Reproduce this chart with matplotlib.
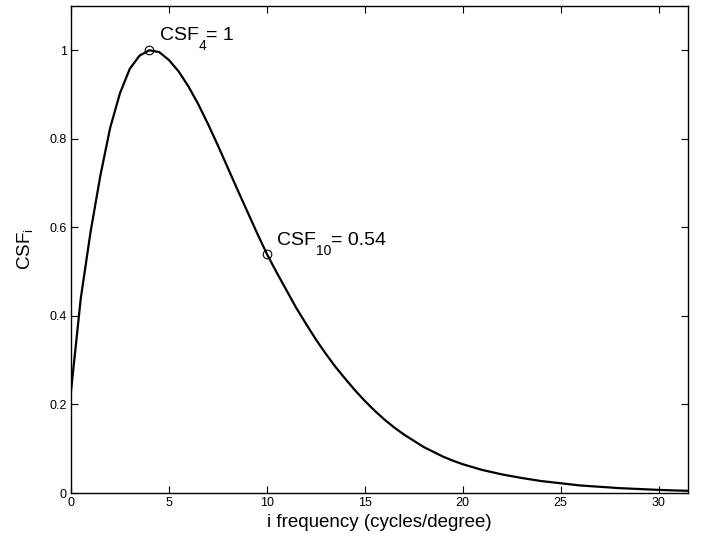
import matplotlib
matplotlib.use("Agg")
import matplotlib.pyplot as plt

plt.rcParams['font.family'] = ['Liberation Sans', 'DejaVu Sans']
plt.rcParams['mathtext.fontset'] = 'custom'
plt.rcParams['mathtext.rm'] = 'Liberation Sans'
plt.rcParams['mathtext.it'] = 'Liberation Sans'

freq = [0, 0.5, 1, 1.5, 2, 2.5, 3, 3.5, 4, 4.5, 5, 5.5, 6, 6.5, 7, 7.5, 8,
        8.5, 9, 9.5, 10, 10.5, 11, 11.5, 12, 12.5, 13, 13.5, 14, 14.5, 15,
        15.5, 16, 16.5, 17, 17.5, 18, 18.5, 19, 19.5, 20, 21, 22, 23, 24, 25,
        26, 27, 28, 29, 30, 31, 31.5]
csf = [0.23, 0.44, 0.59, 0.717, 0.825, 0.903, 0.958, 0.988, 1.0, 0.996, 0.978,
       0.952, 0.918, 0.878, 0.833, 0.785, 0.735,
       0.685, 0.636, 0.587, 0.54, 0.498, 0.458, 0.418, 0.382, 0.347, 0.315,
       0.285, 0.258, 0.232, 0.208,
       0.186, 0.166, 0.148, 0.132, 0.118, 0.104, 0.093, 0.082, 0.073, 0.065,
       0.052, 0.042, 0.034, 0.027, 0.022,
       0.017, 0.014, 0.011, 0.009, 0.007, 0.0055, 0.005]
mark_x = [4, 10]
mark_y = [1.0, 0.54]
label_main = ['CSF', 'CSF']
label_sub = ['4', '10']
label_rest = ['= 1', '= 0.54']
label_pos = [(4.55, 1.0226), (10.54, 0.560)]
xticks = [0, 5, 10, 15, 20, 25, 30]
yticks = [0, 0.2, 0.4, 0.6, 0.8, 1]
ytick_labels = ['0', '0.2', '0.4', '0.6', '0.8', '1']

fig = plt.figure(figsize=(7.05, 5.38), dpi=100)
ax = fig.add_axes([71/705, 45/538, (688-71)/705, (493-6)/538])
ax.plot(freq, csf, color='black', linewidth=1.6)
ax.plot(mark_x, mark_y, linestyle='none', marker='o', markersize=6.2,
        markerfacecolor='none', markeredgecolor='black', markeredgewidth=0.8)

for (px, py), m, s, r in zip(label_pos, label_main, label_sub, label_rest):
    t = ax.text(px, py, m, fontsize=14, va='baseline', ha='left')
    ts = ax.annotate(s, xy=(1, 0), xycoords=t, xytext=(-0.5, -4.3),
                     textcoords='offset points', fontsize=10,
                     va='baseline', ha='left')
    ax.annotate(r, xy=(1, 0), xycoords=(ts, t), xytext=(0, 0),
                textcoords='offset points', fontsize=14,
                va='bottom', ha='left')

ax.set_xlim(0, 31.5)
ax.set_ylim(0, 1.1)
ax.set_xticks(xticks)
ax.set_yticks(yticks)
ax.set_yticklabels(ytick_labels)
ax.tick_params(direction='in', top=True, right=True, length=5, width=0.8,
               labelsize=9, pad=3)
for sp in ax.spines.values():
    sp.set_linewidth(1.0)
ax.set_xlabel('i frequency (cycles/degree)', fontsize=13.5)
ax.xaxis.set_label_coords(0.5, -0.043)
ax.set_ylabel('CSF$_{i}$', fontsize=13.5)
ax.yaxis.set_label_coords(-0.058, 0.5)

fig.savefig('out.png', dpi=100)
